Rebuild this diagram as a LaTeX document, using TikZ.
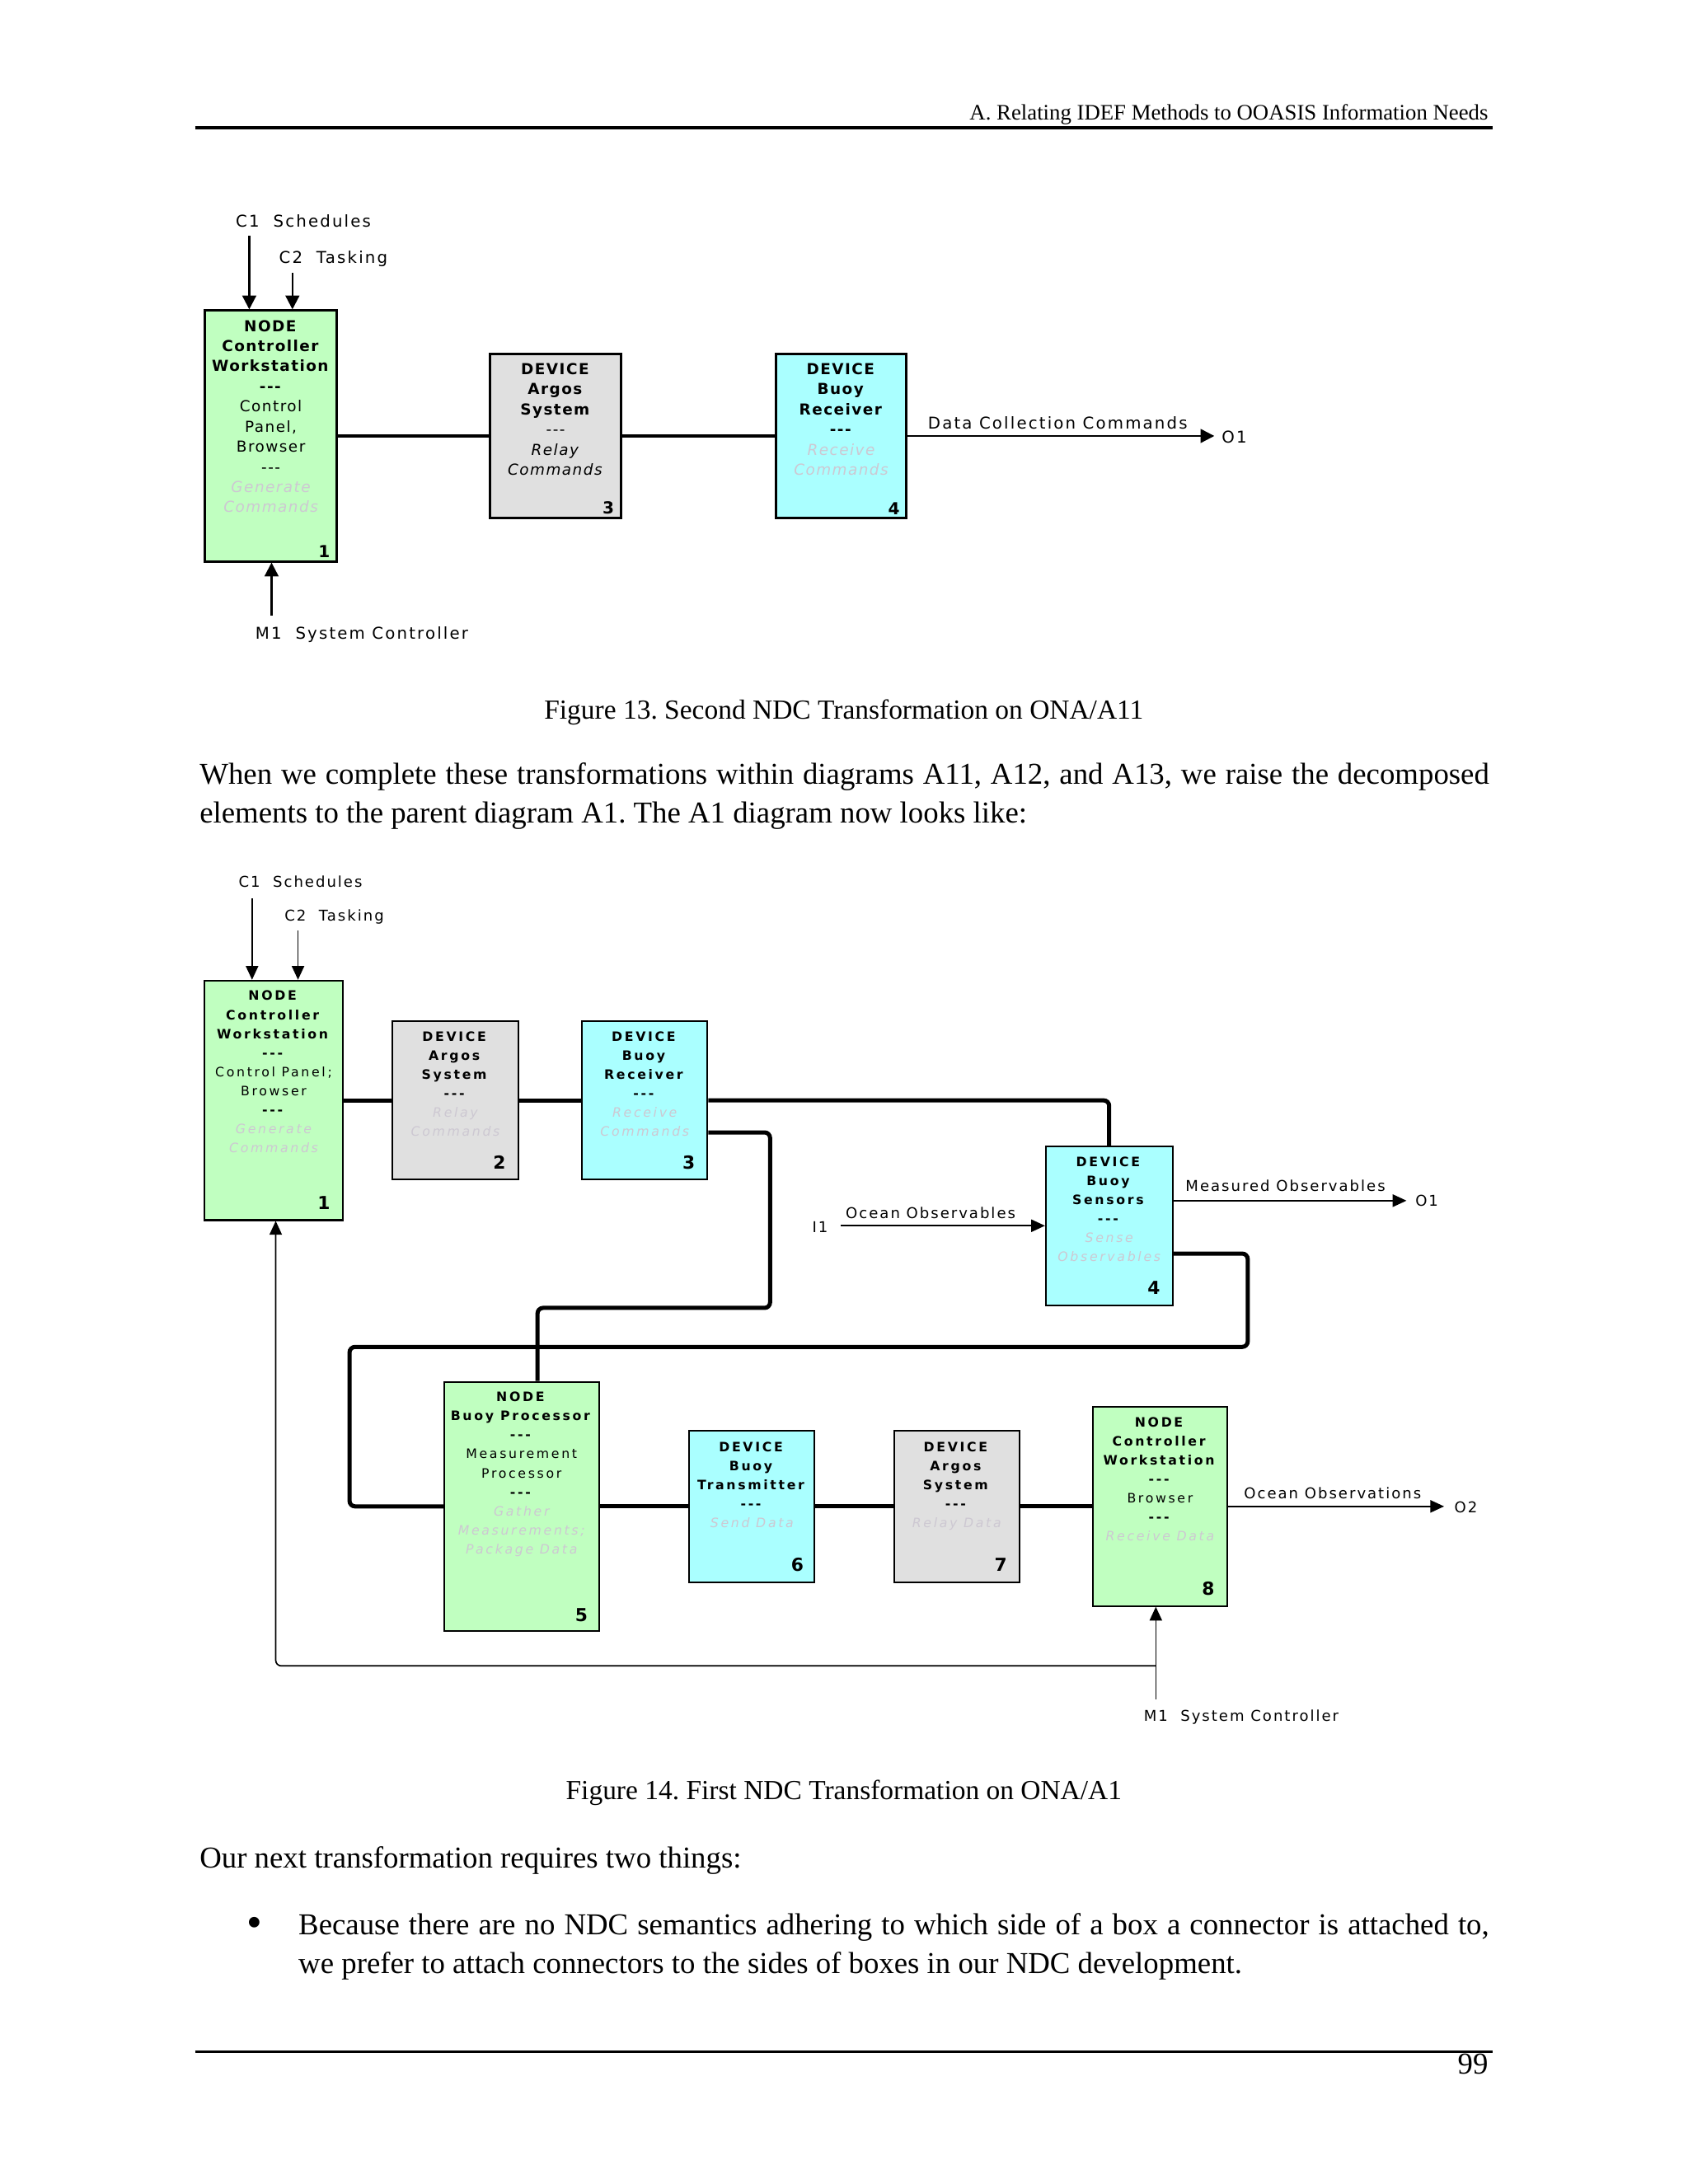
\documentclass[tikz,border=0pt]{standalone}
\usepackage{fontspec}
\setmainfont{Liberation Serif}
\newfontfamily\dgA[LetterSpace=8]{DejaVu Sans}
\newfontfamily\dgB[LetterSpace=17]{DejaVu Sans}
\newfontfamily\dgC[LetterSpace=11]{DejaVu Sans}
\newfontfamily\dgN{DejaVu Sans}
\usetikzlibrary{arrows.meta,calc,fit}
\definecolor{boxgreen}{RGB}{192,255,192}
\definecolor{boxgray}{RGB}{224,224,224}
\definecolor{boxcyan}{RGB}{170,255,255}
\definecolor{faint}{RGB}{205,200,210}
\newcommand\dgb[1]{\textbf{#1}}
\newcommand\dgl[1]{{\color{faint}\itshape #1}}
\newcommand\dgd{-{}-{}-}
\newcommand\dgbd{\textbf{-{}-{}-}}
\frenchspacing
\tikzset{
  box13/.style={draw, line width=0.9pt, inner sep=0pt},
  box14/.style={draw, line width=0.6pt, inner sep=0pt},
  t13/.style={font=\dgA\fontsize{5.5}{7.3}\selectfont, align=center, inner sep=0pt, anchor=north},
  t14/.style={font=\dgB\fontsize{4.7}{6.9}\selectfont, align=center, inner sep=0pt, anchor=north},
  n13/.style={font=\dgN\bfseries\fontsize{6}{7}\selectfont, inner sep=0pt},
  n14/.style={font=\dgN\bfseries\fontsize{6.5}{7.5}\selectfont, inner sep=0pt},
  l13/.style={font=\dgC\fontsize{5.9}{7}\selectfont, inner sep=0pt, anchor=base west},
  l14/.style={font=\dgC\fontsize{5.4}{6.5}\selectfont, inner sep=0pt, anchor=base west},
  conn13/.style={line width=1.25pt},
  conn14/.style={line width=1.5pt, rounded corners=2pt},
  arr13/.style={line width=0.7pt, -{Triangle[length=5pt,width=5pt]}},
  arr14/.style={line width=0.5pt, -{Triangle[length=5pt,width=4.5pt]}},
  body/.style={font=\fontsize{11}{14.1}\selectfont, inner sep=0pt},
}
\begin{document}
\begin{tikzpicture}[x=0.50495pt, y=-0.50510pt]
\useasboundingbox (0,0) rectangle (1212,1568);
\fill[white] (0,0) rectangle (1212,1568);

% ---------- header ----------
\node[anchor=base east, inner sep=0pt, font=\fontsize{8}{10}\selectfont] (hdr) at (1069,86) {A. Relating IDEF Methods to OOASIS Information Needs};
\draw[line width=1.2pt] (140,92) -- (1072,92);

% ---------- Figure 13 ----------
\node[box13, fill=boxgreen, fit={(147,223) (242,403)}] (a1) {};
\node[box13, fill=boxgray,  fit={(352,254) (446,372)}] (a3) {};
\node[box13, fill=boxcyan,  fit={(557,254) (651,372)}] (a4) {};

\node[t13] (a1t) at ($(a1.north)+(0,7.3)$) {\dgb{NODE}\\\dgb{Controller}\\\dgb{Workstation}\\\dgbd\\Control\\Panel,\\Browser\\\dgd\\\dgl{Generate}\\\dgl{Commands}};
\node[t13] (a3t) at ($(a3.north)+(0,7.3)$) {\dgb{DEVICE}\\\dgb{Argos}\\\dgb{System}\\\dgd\\\textit{Relay}\\\textit{Commands}};
\node[t13] (a4t) at ($(a4.north)+(0,7.3)$) {\dgb{DEVICE}\\\dgb{Buoy}\\\dgb{Receiver}\\\dgbd\\\dgl{Receive}\\\dgl{Commands}};
\node[n13] (a1n) at ($(a1.south east)+(-10,-8)$) {1};
\node[n13] (a3n) at ($(a3.south east)+(-10,-8)$) {3};
\node[n13] (a4n) at ($(a4.south east)+(-10,-8)$) {4};

\draw[conn13] (a1.east) -- (a3.west);
\draw[conn13] (a3.east) -- (a4.west);
\coordinate (ao1) at (872,313);
\draw[arr13] (a4.east) -- (ao1);
\coordinate (ac1) at (179,169);
\coordinate (ac2) at (210,196);
\coordinate (am1) at (195,442);
\draw[arr13] (ac1) -- (ac1 |- a1.north);
\draw[arr13] (ac2) -- (ac2 |- a1.north);
\draw[arr13] (am1) -- (am1 |- a1.south);

\node[l13] (lac1) at (169,163) {C1\ \ Schedules};
\node[l13] (lac2) at (200,189) {C2\ \ Tasking};
\node[l13] (ladc) at (666,308) {Data Collection Commands};
\node[l13] (lao1) at (877,318) {O1};
\node[l13] (lam1) at (183,459) {M1\ \ System Controller};

\node[body, anchor=base] (cap13) at (606,516) {\fontsize{10}{12}\selectfont Figure 13. Second NDC Transformation on ONA/A11};

% ---------- paragraph ----------
\node[body, anchor=base west] (p1) at (143,563) {\makebox[467.6pt][s]{When we complete these transformations within diagrams A11, A12, and A13, we raise the decomposed}};
\node[body, anchor=base west] (p2) at (143,591) {elements to the parent diagram A1. The A1 diagram now looks like:};

% ---------- Figure 14 ----------
\node[box14, fill=boxgreen, fit={(147,704) (246,876)}] (b1) {};
\node[box14, fill=boxgray,  fit={(282,733) (372,847)}] (b2) {};
\node[box14, fill=boxcyan,  fit={(418,733) (508,847)}] (b3) {};
\node[box14, fill=boxcyan,  fit={(751,823) (842,937)}] (b4) {};
\node[box14, fill=boxgreen, fit={(319,992) (430,1171)}] (b5) {};
\node[box14, fill=boxcyan,  fit={(495,1027) (585,1136)}] (b6) {};
\node[box14, fill=boxgray,  fit={(642,1027) (732,1136)}] (b7) {};
\node[box14, fill=boxgreen, fit={(785,1010) (881,1153)}] (b8) {};

\node[t14] (b1t) at ($(b1.north)+(0,7.6)$) {\dgb{NODE}\\\dgb{Controller}\\\dgb{Workstation}\\\dgbd\\Control Panel;\\Browser\\\dgbd\\\dgl{Generate}\\\dgl{Commands}};
\node[t14] (b2t) at ($(b2.north)+(0,7.6)$) {\dgb{DEVICE}\\\dgb{Argos}\\\dgb{System}\\\dgbd\\\dgl{Relay}\\\dgl{Commands}};
\node[t14] (b3t) at ($(b3.north)+(0,7.6)$) {\dgb{DEVICE}\\\dgb{Buoy}\\\dgb{Receiver}\\\dgbd\\\dgl{Receive}\\\dgl{Commands}};
\node[t14] (b4t) at ($(b4.north)+(0,7.6)$) {\dgb{DEVICE}\\\dgb{Buoy}\\\dgb{Sensors}\\\dgbd\\\dgl{Sense}\\\dgl{Observables}};
\node[t14] (b5t) at ($(b5.north)+(0,7.6)$) {\dgb{NODE}\\\dgb{Buoy Processor}\\\dgbd\\Measurement\\Processor\\\dgbd\\\dgl{Gather}\\\dgl{Measurements;}\\\dgl{Package Data}};
\node[t14] (b6t) at ($(b6.north)+(0,8.6)$) {\dgb{DEVICE}\\\dgb{Buoy}\\\dgb{Transmitter}\\\dgbd\\\dgl{Send Data}};
\node[t14] (b7t) at ($(b7.north)+(0,8.6)$) {\dgb{DEVICE}\\\dgb{Argos}\\\dgb{System}\\\dgbd\\\dgl{Relay Data}};
\node[t14] (b8t) at ($(b8.north)+(0,7.6)$) {\dgb{NODE}\\\dgb{Controller}\\\dgb{Workstation}\\\dgbd\\Browser\\\dgbd\\\dgl{Receive Data}};

\node[n14] (b1n) at ($(b1.south east)+(-14,-13)$) {1};
\node[n14] (b2n) at ($(b2.south east)+(-14,-13)$) {2};
\node[n14] (b3n) at ($(b3.south east)+(-14,-13)$) {3};
\node[n14] (b4n) at ($(b4.south east)+(-14,-13)$) {4};
\node[n14] (b5n) at ($(b5.south east)+(-13,-12)$) {5};
\node[n14] (b6n) at ($(b6.south east)+(-13,-13)$) {6};
\node[n14] (b7n) at ($(b7.south east)+(-14,-13)$) {7};
\node[n14] (b8n) at ($(b8.south east)+(-14,-13)$) {8};

% thick connectors
\draw[conn14] (b1.east) -- (b2.west);
\draw[conn14] (b2.east) -- (b3.west);
\draw[conn14] (b3.east) -| (b4.north);
\draw[conn14] (b3.east |- 0,813) -- (553,813) -- (553,939) -- (386,939) -- (b5.north -| 386,0);
\draw[conn14] (b4.east |- 0,900) -- (896,900) -- (896,967) -- (251,967) |- (b5.west);
\draw[conn14] (b5.east) -- (b6.west);
\draw[conn14] (b6.east) -- (b7.west);
\draw[conn14] (b7.east) -- (b8.west);

% thin arrows
\coordinate (bc1) at (181,645);
\coordinate (bc2) at (214,668);
\coordinate (bi1) at (604,880);
\coordinate (bo1) at (1010,862);
\coordinate (bo2) at (1037,1081);
\coordinate (bm1) at (830,1220);
\coordinate (bm1j) at (830,1196);
\draw[arr14] (bc1) -- (bc1 |- b1.north);
\draw[arr14] (bc2) -- (bc2 |- b1.north);
\draw[arr14] (bi1) -- (bi1 -| b4.west);
\draw[arr14] (b4.east |- bo1) -- (bo1);
\draw[arr14] (b8.east) -- (bo2 |- b8.east);
\draw[arr14] (bm1) -- (bm1 |- b8.south);
\draw[arr14, rounded corners=2pt] (bm1j) -- (198,1196) -- (198,0 |- b1.south);

\node[l14] (lbc1) at (171,637) {C1\ \ Schedules};
\node[l14] (lbc2) at (204,661) {C2\ \ Tasking};
\node[l14] (lbi1) at (583,885) {I1};
\node[l14] (lboo) at (607,875) {Ocean Observables};
\node[l14] (lbmo) at (851,855) {Measured Observables};
\node[l14] (lbo1) at (1016,866) {O1};
\node[l14] (lbos) at (893,1076) {Ocean Observations};
\node[l14] (lbo2) at (1044,1086) {O2};
\node[l14] (lbm1) at (821,1236) {M1\ \ System Controller};

\node[body, anchor=base] (cap14) at (606,1292) {\fontsize{10}{12}\selectfont Figure 14. First NDC Transformation on ONA/A1};

% ---------- text below ----------
\node[body, anchor=base west] (p3) at (143,1341) {Our next transformation requires two things:};
\node[body, anchor=base, font=\fontsize{16}{16}\selectfont] (bul) at (183,1391) {•};
\node[body, anchor=base west] (p4) at (214,1389) {\makebox[431.7pt][s]{Because there are no NDC semantics adhering to which side of a box a connector is attached to,}};
\node[body, anchor=base west] (p5) at (214,1417) {we prefer to attach connectors to the sides of boxes in our NDC development.};

% ---------- footer ----------
\draw[line width=0.8pt] (140,1473) -- (1072,1473);
\node[body, anchor=base east] (pg) at (1069,1489) {99};
\end{tikzpicture}
\end{document}
